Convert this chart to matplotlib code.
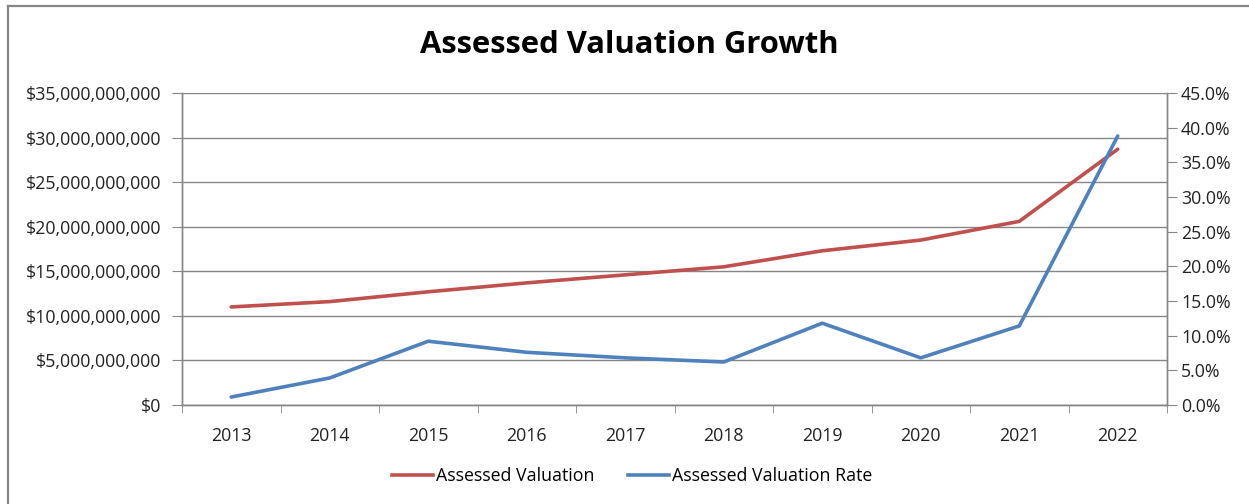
import matplotlib
matplotlib.use("Agg")
from matplotlib import pyplot as plt
from matplotlib.lines import Line2D
from matplotlib.ticker import FuncFormatter, MultipleLocator

plt.rcParams['font.family'] = ['Open Sans', 'DejaVu Sans']

years = ['2013', '2014', '2015', '2016', '2017', '2018', '2019', '2020', '2021', '2022']
valuation = [11.0e9, 11.6e9, 12.7e9, 13.7e9, 14.6e9, 15.5e9, 17.3e9, 18.5e9, 20.6e9, 28.7e9]
rate = [1.15, 3.9, 9.2, 7.6, 6.8, 6.2, 11.8, 6.8, 11.4, 38.8]

RED = '#C0504D'
BLUE = '#4F81BD'
GRID = '#868686'

fig = plt.figure(figsize=(12.49, 5.04), dpi=100)
W, H = 1249, 504

# chart area border (top and left visible)
fig.add_artist(Line2D([8 / W, 8 / W], [0, 1 - 6 / H], color=GRID, lw=1.6, transform=fig.transFigure))
fig.add_artist(Line2D([8 / W, 1], [1 - 6 / H, 1 - 6 / H], color=GRID, lw=1.6, transform=fig.transFigure))

ax = fig.add_axes([182 / W, 1 - 405 / H, (1167 - 182) / W, (405 - 93) / H])
ax2 = ax.twinx()

x = list(range(len(years)))
ax.plot(x, valuation, color=RED, lw=2.6, solid_capstyle='round', zorder=3)
ax2.plot(x, rate, color=BLUE, lw=2.6, solid_capstyle='round', zorder=3)

ax.set_xlim(-0.5, len(years) - 0.5)
ax.set_ylim(0, 35e9)
ax2.set_ylim(0, 45)
ax.yaxis.set_major_locator(MultipleLocator(5e9))
ax2.yaxis.set_major_locator(MultipleLocator(5))
ax.yaxis.set_major_formatter(FuncFormatter(lambda v, p: '${:,.0f}'.format(v)))
ax2.yaxis.set_major_formatter(FuncFormatter(lambda v, p: '{:.1f}%'.format(v)))

ax.set_xticks(x)
ax.set_xticklabels(years)
ax.set_xticks([i - 0.5 for i in range(len(years) + 1)], minor=True)
ax.tick_params(axis='x', which='major', length=0, pad=16, labelsize=12.8, colors='#222222')
ax.tick_params(axis='x', which='minor', length=6, color=GRID, direction='out')
ax.tick_params(axis='y', length=7, color=GRID, labelsize=12.8, labelcolor='#222222', pad=8)
ax2.tick_params(axis='y', length=7, color=GRID, labelsize=12.8, labelcolor='#222222', pad=3)

ax.yaxis.grid(True, color=GRID, lw=1.0)
ax.set_axisbelow(True)
for a in (ax, ax2):
    a.spines['top'].set_visible(False)
    for s in ('left', 'right', 'bottom'):
        a.spines[s].set_color(GRID)
        a.spines[s].set_linewidth(1.0)

fig.text(629 / W, 1 - 45 / H, 'Assessed Valuation Growth', ha='center', va='center',
         fontsize=22.3, fontweight='bold', color='black')

handles = [Line2D([], [], color=RED, lw=2.6), Line2D([], [], color=BLUE, lw=2.6)]
fig.legend(handles, ['Assessed Valuation', 'Assessed Valuation Rate'], loc='center',
           bbox_to_anchor=(632 / W, 1 - 476 / H), ncol=2, frameon=False, fontsize=12.8,
           handlelength=2.3, handletextpad=0.15, columnspacing=1.9)

fig.savefig('out.png', dpi=100)
